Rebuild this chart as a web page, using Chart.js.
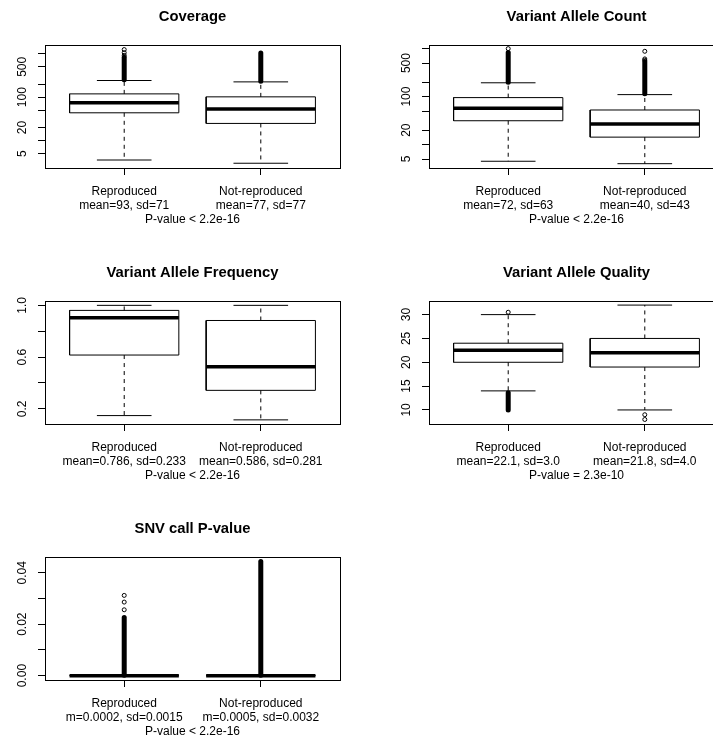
<!DOCTYPE html>
<html><head><meta charset="utf-8">
<script src="https://cdn.jsdelivr.net/npm/chart.js@4.4.1/dist/chart.umd.min.js"></script>
<style>
html,body{margin:0;padding:0;background:#fff;overflow:hidden;width:713px;height:738px;}
#wrap{position:relative;width:713px;height:738px;overflow:hidden;background:#fff;}
canvas{position:absolute;}
</style></head><body>
<div id="wrap">
<canvas id="c1" width="384" height="256" style="left:0;top:0"></canvas>
<canvas id="c2" width="384" height="256" style="left:384px;top:0"></canvas>
<canvas id="c3" width="384" height="256" style="left:0;top:256px"></canvas>
<canvas id="c4" width="384" height="256" style="left:384px;top:256px"></canvas>
<canvas id="c5" width="384" height="256" style="left:0;top:512px"></canvas>
</div>
<script>
// ---- shared categories ----
const groups = ['Reproduced', 'Not-reproduced'];
const groupX = [1, 2];

// ---- Coverage (log scale) ----
const covTitle = 'Coverage';
const covQ1 = [43.6, 24.8];
const covMed = [74, 53];
const covQ3 = [119, 101.6];
const covLo = [3.56, 3.0];
const covHi = [242, 225];
const covBandLo = [252, 232];
const covBandHi = [830, 1040];
const covOutRep = [920, 1060, 1250];
const covOutNot = [];
const covStatLabels = ['mean=93, sd=71', 'mean=77, sd=77'];
const covPval = 'P-value < 2.2e-16';
const covTicks = [5, 10, 20, 50, 100, 200, 500, 1000];
const covTickLabels = ['5', '', '20', '', '100', '', '500', ''];
const covRange = [2.33, 1630];

// ---- Variant Allele Count (log scale) ----
const vacTitle = 'Variant Allele Count';
const vacQ1 = [31.4, 14.3];
const vacMed = [57.1, 26.8];
const vacQ3 = [95.3, 52.6];
const vacLo = [4.49, 4.0];
const vacHi = [194, 110];
const vacBandLo = [200, 115];
const vacBandHi = [835, 540];
const vacOutRep = [1000];
const vacOutNot = [575, 610, 880];
const vacStatLabels = ['mean=72, sd=63', 'mean=40, sd=43'];
const vacPval = 'P-value < 2.2e-16';
const vacTicks = [5, 10, 20, 50, 100, 200, 500, 1000];
const vacTickLabels = ['5', '', '20', '', '100', '', '500', ''];
const vacRange = [3.25, 1215];

// ---- Variant Allele Frequency ----
const vafTitle = 'Variant Allele Frequency';
const vafQ1 = [0.616, 0.343];
const vafMed = [0.904, 0.525];
const vafQ3 = [0.961, 0.883];
const vafLo = [0.148, 0.115];
const vafHi = [1.0, 1.0];
const vafBandLo = [null, null];
const vafBandHi = [null, null];
const vafOutRep = [];
const vafOutNot = [];
const vafStatLabels = ['mean=0.786, sd=0.233', 'mean=0.586, sd=0.281'];
const vafPval = 'P-value < 2.2e-16';
const vafTicks = [0.2, 0.4, 0.6, 0.8, 1.0];
const vafTickLabels = ['0.2', '', '0.6', '', '1.0'];
const vafRange = [0.083, 1.037];

// ---- Variant Allele Quality ----
const vaqTitle = 'Variant Allele Quality';
const vaqQ1 = [20, 19];
const vaqMed = [22.5, 22];
const vaqQ3 = [24, 25];
const vaqLo = [14, 10];
const vaqHi = [30, 32];
const vaqBandLo = [10, null];
const vaqBandHi = [13.6, null];
const vaqOutRep = [30.5];
const vaqOutNot = [9, 8];
const vaqStatLabels = ['mean=22.1, sd=3.0', 'mean=21.8, sd=4.0'];
const vaqPval = 'P-value = 2.3e-10';
const vaqTicks = [10, 15, 20, 25, 30];
const vaqTickLabels = ['10', '15', '20', '25', '30'];
const vaqRange = [7.05, 32.95];

// ---- SNV call P-value ----
const snvTitle = 'SNV call P-value';
const snvQ1 = [0, 0];
const snvMed = [0, 0];
const snvQ3 = [0, 0];
const snvLo = [0, 0];
const snvHi = [0, 0];
const snvBandLo = [0.0001, 0.0001];
const snvBandHi = [0.0226, 0.0444];
const snvOutRep = [0.0256, 0.0286, 0.0312];
const snvOutNot = [];
const snvStatLabels = ['m=0.0002, sd=0.0015', 'm=0.0005, sd=0.0032'];
const snvPval = 'P-value < 2.2e-16';
const snvTicks = [0, 0.01, 0.02, 0.03, 0.04];
const snvTickLabels = ['0.00', '', '0.02', '', '0.04'];
const snvRange = [-0.0017, 0.0463];

// ---- rendering ----
const FONT = '"Liberation Sans", Arial, Helvetica, sans-serif';
Chart.defaults.font.family = FONT;
Chart.defaults.color = '#000';

function lineDs(pts, width, dash, cap) {
  return {
    type: 'scatter', showLine: true,
    data: pts.map(p => ({x: p[0], y: p[1]})),
    borderColor: '#000', borderWidth: width,
    borderDash: dash || [], borderCapStyle: cap || 'butt',
    pointRadius: 0, pointHoverRadius: 0, fill: false, tension: 0
  };
}
function pointDs(pts) {
  return {
    type: 'scatter', showLine: false, data: pts,
    pointRadius: 2, pointBorderWidth: 1, pointBorderColor: '#000',
    pointBackgroundColor: 'rgba(0,0,0,0)', pointStyle: 'circle'
  };
}

const framePlugin = {
  id: 'frame',
  afterDatasetsDraw(chart) {
    const a = chart.chartArea, ctx = chart.ctx;
    ctx.save();
    ctx.strokeStyle = '#000'; ctx.lineWidth = 1;
    const l = Math.round(a.left) + 0.5, t = Math.round(a.top) + 0.5;
    const r = Math.round(a.right) + 0.5, b = Math.round(a.bottom) + 0.5;
    ctx.strokeRect(l, t, r - l, b - t);
    ctx.restore();
  }
};

function yPad(labels) {
  const c = document.createElement('canvas').getContext('2d');
  c.font = '12px ' + FONT;
  const w = Math.max(...labels.map(s => c.measureText(s).width));
  return 15 - w / 2;
}

function panel(id, title, q1, med, q3, lo, hi, bandLo, bandHi, outs, statLabels, pval, yTicks, yTickLabels, yRange, isLog) {
  const ds = [];
  for (let i = 0; i < groups.length; i++) {
    const x = groupX[i], hw = 0.4, sw = 0.2;
    ds.push(lineDs([[x - hw, q1[i]], [x + hw, q1[i]], [x + hw, q3[i]], [x - hw, q3[i]], [x - hw, q1[i]]], 1));
    if (hi[i] !== q3[i]) ds.push(lineDs([[x, q3[i]], [x, hi[i]]], 1, [4, 4]));
    if (lo[i] !== q1[i]) ds.push(lineDs([[x, q1[i]], [x, lo[i]]], 1, [4, 4]));
    ds.push(lineDs([[x - sw, hi[i]], [x + sw, hi[i]]], 1));
    ds.push(lineDs([[x - sw, lo[i]], [x + sw, lo[i]]], 1));
    ds.push(lineDs([[x - hw, med[i]], [x + hw, med[i]]], 3.5));
    if (bandLo[i] != null) ds.push(lineDs([[x, bandLo[i]], [x, bandHi[i]]], 5, null, 'round'));
    if (outs[i].length) ds.push(pointDs(outs[i].map(v => ({x: x, y: v}))));
  }
  new Chart(document.getElementById(id), {
    type: 'scatter',
    data: {datasets: ds},
    plugins: [framePlugin],
    options: {
      responsive: false, animation: false, events: [],
      layout: {padding: {left: 0, right: 44, top: 0, bottom: 28}},
      plugins: {
        legend: {display: false}, tooltip: {enabled: false},
        title: {display: true, text: title, fullSize: false, color: '#000',
          font: {size: 14.8, weight: 'bold', family: FONT},
          padding: {top: 8.0, bottom: 18.8}}
      },
      scales: {
        x: {
          type: 'linear', min: 0.42, max: 2.58, bounds: 'data',
          afterBuildTicks: s => { s.ticks = groupX.map(v => ({value: v})); },
          afterFit: s => { s.height = 60; },
          ticks: {
            autoSkip: false, maxRotation: 0, minRotation: 0, padding: 10, color: '#000',
            font: {size: 12, lineHeight: 14 / 12},
            callback: (v, i) => [groups[i], statLabels[i]]
          },
          grid: {drawOnChartArea: false, drawTicks: true, tickLength: 7, tickColor: '#000', color: '#000', tickWidth: 1},
          border: {display: false},
          title: {display: true, text: pval, color: '#000', font: {size: 12, lineHeight: 14 / 12}, padding: {top: 0, bottom: 1}}
        },
        y: {
          type: isLog ? 'logarithmic' : 'linear', min: yRange[0], max: yRange[1], bounds: 'data',
          afterBuildTicks: s => { s.ticks = yTicks.map(v => ({value: v})); },
          afterFit: s => { s.width = 45; },
          ticks: {
            autoSkip: false, minRotation: 90, maxRotation: 90, crossAlign: 'center',
            padding: yPad(yTickLabels), color: '#000', font: {size: 12},
            callback: (v, i) => yTickLabels[i]
          },
          grid: {drawOnChartArea: false, drawTicks: true, tickLength: 7, tickColor: '#000', color: '#000', tickWidth: 1},
          border: {display: false}
        }
      }
    }
  });
}

panel('c1', covTitle, covQ1, covMed, covQ3, covLo, covHi, covBandLo, covBandHi, [covOutRep, covOutNot], covStatLabels, covPval, covTicks, covTickLabels, covRange, true);
panel('c2', vacTitle, vacQ1, vacMed, vacQ3, vacLo, vacHi, vacBandLo, vacBandHi, [vacOutRep, vacOutNot], vacStatLabels, vacPval, vacTicks, vacTickLabels, vacRange, true);
panel('c3', vafTitle, vafQ1, vafMed, vafQ3, vafLo, vafHi, vafBandLo, vafBandHi, [vafOutRep, vafOutNot], vafStatLabels, vafPval, vafTicks, vafTickLabels, vafRange, false);
panel('c4', vaqTitle, vaqQ1, vaqMed, vaqQ3, vaqLo, vaqHi, vaqBandLo, vaqBandHi, [vaqOutRep, vaqOutNot], vaqStatLabels, vaqPval, vaqTicks, vaqTickLabels, vaqRange, false);
panel('c5', snvTitle, snvQ1, snvMed, snvQ3, snvLo, snvHi, snvBandLo, snvBandHi, [snvOutRep, snvOutNot], snvStatLabels, snvPval, snvTicks, snvTickLabels, snvRange, false);
</script>
</body></html>
